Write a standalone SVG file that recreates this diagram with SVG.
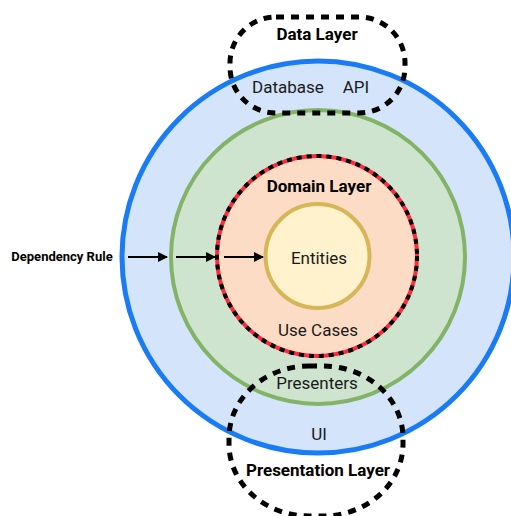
<svg xmlns="http://www.w3.org/2000/svg" width="511" height="516" viewBox="0 0 511 516">
<defs>
<marker id="ah" viewBox="0 0 10 10" refX="9" refY="5" markerWidth="10" markerHeight="10" markerUnits="userSpaceOnUse" orient="auto">
<path d="M0,0 L10,5 L0,10 z" fill="#000"/>
</marker>
</defs>
<style>
text{font-family:Roboto,"Liberation Sans",sans-serif;font-size:17px;fill:#1a1a1a;text-anchor:middle;dominant-baseline:central}
.b{font-weight:bold;fill:#000}
.dash{fill:none;stroke:#000;stroke-width:5;stroke-dasharray:8 7}
.arr{stroke:#000;stroke-width:2;marker-end:url(#ah)}
</style>
<rect width="511" height="516" fill="#fff"/>
<g id="outer">
<circle cx="318" cy="257" r="196" fill="#d4e4fb" stroke="#1a7cf5" stroke-width="5"/>
<text x="288" y="87">Database</text>
<text x="356" y="87">API</text>
<text x="319" y="434">UI</text>
</g>
<g id="interface">
<circle cx="318" cy="257" r="147" fill="#cfe4cf" stroke="#82b366" stroke-width="4"/>
<text x="317" y="383">Presenters</text>
</g>
<g id="domain">
<circle cx="317" cy="256" r="100" fill="#fddcc6" stroke="#ff2a3a" stroke-width="4"/>
<circle cx="317" cy="256" r="100" fill="none" stroke="#000" stroke-width="4" stroke-dasharray="5 5"/>
<text class="b" x="319" y="186">Domain Layer</text>
<text x="318" y="330">Use Cases</text>
</g>
<g id="entities">
<circle cx="317.5" cy="256" r="52" fill="#fff2cc" stroke="#d6b656" stroke-width="4"/>
<text x="319" y="258">Entities</text>
</g>
<g id="data-layer">
<rect x="230" y="17" width="175" height="96" rx="46" ry="46" class="dash"/>
<text class="b" x="317" y="34">Data Layer</text>
</g>
<g id="presentation-layer">
<rect x="229" y="366" width="174" height="150" rx="80" ry="72" class="dash"/>
<text class="b" x="318" y="470">Presentation Layer</text>
</g>
<g id="dependency-rule">
<text class="b" x="62" y="256" style="font-size:13px">Dependency Rule</text>
</g>
<g id="connectors">
<line class="arr" x1="128" y1="257" x2="167" y2="257"/>
<line class="arr" x1="176" y1="257" x2="215" y2="257"/>
<line class="arr" x1="224" y1="257" x2="263" y2="257"/>
</g>
</svg>
